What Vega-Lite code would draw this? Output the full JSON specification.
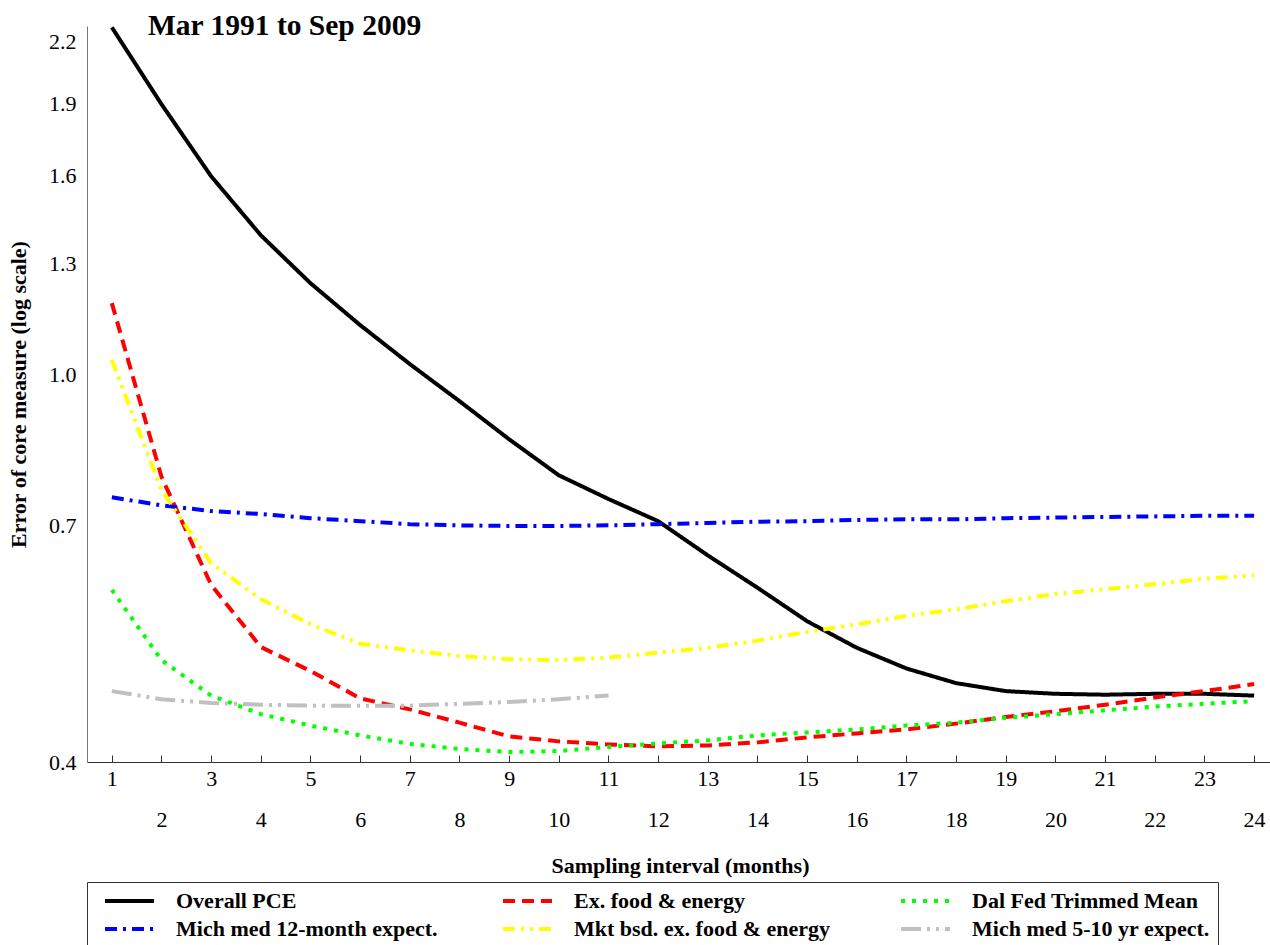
{
  "$schema": "https://vega.github.io/schema/vega-lite/v6.json",
  "width": 1183,
  "height": 736,
  "autosize": {"type": "none"},
  "padding": {"left": 87, "top": 26, "right": 0, "bottom": 183},
  "background": "white",
  "config": {"view": {"stroke": null}, "font": "'Liberation Serif', 'Times New Roman', 'DejaVu Serif', serif"},
  "title": {"text": "Mar 1991 to Sep 2009", "anchor": "start", "frame": "group", "dx": 61, "offset": -38, "baseline": "alphabetic", "font": "'Liberation Serif', 'Times New Roman', 'DejaVu Serif', serif", "fontSize": 29.5, "fontWeight": "bold", "color": "black"},
  "datasets": {
    "d": [
      {"series": "Overall PCE", "months": 1, "error": 2.273}, {"series": "Overall PCE", "months": 2, "error": 1.895}, {"series": "Overall PCE", "months": 3, "error": 1.598}, {"series": "Overall PCE", "months": 4, "error": 1.39}, {"series": "Overall PCE", "months": 5, "error": 1.241}, {"series": "Overall PCE", "months": 6, "error": 1.124}, {"series": "Overall PCE", "months": 7, "error": 1.025}, {"series": "Overall PCE", "months": 8, "error": 0.939}, {"series": "Overall PCE", "months": 9, "error": 0.858}, {"series": "Overall PCE", "months": 10, "error": 0.788}, {"series": "Overall PCE", "months": 11, "error": 0.745}, {"series": "Overall PCE", "months": 12, "error": 0.707}, {"series": "Overall PCE", "months": 13, "error": 0.652}, {"series": "Overall PCE", "months": 14, "error": 0.604}, {"series": "Overall PCE", "months": 15, "error": 0.558}, {"series": "Overall PCE", "months": 16, "error": 0.524}, {"series": "Overall PCE", "months": 17, "error": 0.499}, {"series": "Overall PCE", "months": 18, "error": 0.482}, {"series": "Overall PCE", "months": 19, "error": 0.473}, {"series": "Overall PCE", "months": 20, "error": 0.47}, {"series": "Overall PCE", "months": 21, "error": 0.469}, {"series": "Overall PCE", "months": 22, "error": 0.47}, {"series": "Overall PCE", "months": 23, "error": 0.47}, {"series": "Overall PCE", "months": 24, "error": 0.468},
      {"series": "Ex. food & energy", "months": 1, "error": 1.184}, {"series": "Ex. food & energy", "months": 2, "error": 0.785}, {"series": "Ex. food & energy", "months": 3, "error": 0.608}, {"series": "Ex. food & energy", "months": 4, "error": 0.525}, {"series": "Ex. food & energy", "months": 5, "error": 0.496}, {"series": "Ex. food & energy", "months": 6, "error": 0.465}, {"series": "Ex. food & energy", "months": 7, "error": 0.453}, {"series": "Ex. food & energy", "months": 8, "error": 0.439}, {"series": "Ex. food & energy", "months": 9, "error": 0.425}, {"series": "Ex. food & energy", "months": 10, "error": 0.42}, {"series": "Ex. food & energy", "months": 11, "error": 0.417}, {"series": "Ex. food & energy", "months": 12, "error": 0.415}, {"series": "Ex. food & energy", "months": 13, "error": 0.416}, {"series": "Ex. food & energy", "months": 14, "error": 0.419}, {"series": "Ex. food & energy", "months": 15, "error": 0.424}, {"series": "Ex. food & energy", "months": 16, "error": 0.428}, {"series": "Ex. food & energy", "months": 17, "error": 0.432}, {"series": "Ex. food & energy", "months": 18, "error": 0.438}, {"series": "Ex. food & energy", "months": 19, "error": 0.445}, {"series": "Ex. food & energy", "months": 20, "error": 0.451}, {"series": "Ex. food & energy", "months": 21, "error": 0.458}, {"series": "Ex. food & energy", "months": 22, "error": 0.466}, {"series": "Ex. food & energy", "months": 23, "error": 0.473}, {"series": "Ex. food & energy", "months": 24, "error": 0.481},
      {"series": "Dal Fed Trimmed Mean", "months": 1, "error": 0.601}, {"series": "Dal Fed Trimmed Mean", "months": 2, "error": 0.509}, {"series": "Dal Fed Trimmed Mean", "months": 3, "error": 0.468}, {"series": "Dal Fed Trimmed Mean", "months": 4, "error": 0.448}, {"series": "Dal Fed Trimmed Mean", "months": 5, "error": 0.436}, {"series": "Dal Fed Trimmed Mean", "months": 6, "error": 0.426}, {"series": "Dal Fed Trimmed Mean", "months": 7, "error": 0.4175}, {"series": "Dal Fed Trimmed Mean", "months": 8, "error": 0.4125}, {"series": "Dal Fed Trimmed Mean", "months": 9, "error": 0.4095}, {"series": "Dal Fed Trimmed Mean", "months": 10, "error": 0.4105}, {"series": "Dal Fed Trimmed Mean", "months": 11, "error": 0.4145}, {"series": "Dal Fed Trimmed Mean", "months": 12, "error": 0.418}, {"series": "Dal Fed Trimmed Mean", "months": 13, "error": 0.421}, {"series": "Dal Fed Trimmed Mean", "months": 14, "error": 0.426}, {"series": "Dal Fed Trimmed Mean", "months": 15, "error": 0.429}, {"series": "Dal Fed Trimmed Mean", "months": 16, "error": 0.432}, {"series": "Dal Fed Trimmed Mean", "months": 17, "error": 0.436}, {"series": "Dal Fed Trimmed Mean", "months": 18, "error": 0.439}, {"series": "Dal Fed Trimmed Mean", "months": 19, "error": 0.444}, {"series": "Dal Fed Trimmed Mean", "months": 20, "error": 0.448}, {"series": "Dal Fed Trimmed Mean", "months": 21, "error": 0.452}, {"series": "Dal Fed Trimmed Mean", "months": 22, "error": 0.456}, {"series": "Dal Fed Trimmed Mean", "months": 23, "error": 0.459}, {"series": "Dal Fed Trimmed Mean", "months": 24, "error": 0.462},
      {"series": "Mich med 12-month expect.", "months": 1, "error": 0.748}, {"series": "Mich med 12-month expect.", "months": 2, "error": 0.734}, {"series": "Mich med 12-month expect.", "months": 3, "error": 0.724}, {"series": "Mich med 12-month expect.", "months": 4, "error": 0.719}, {"series": "Mich med 12-month expect.", "months": 5, "error": 0.712}, {"series": "Mich med 12-month expect.", "months": 6, "error": 0.707}, {"series": "Mich med 12-month expect.", "months": 7, "error": 0.702}, {"series": "Mich med 12-month expect.", "months": 8, "error": 0.7}, {"series": "Mich med 12-month expect.", "months": 9, "error": 0.699}, {"series": "Mich med 12-month expect.", "months": 10, "error": 0.699}, {"series": "Mich med 12-month expect.", "months": 11, "error": 0.7}, {"series": "Mich med 12-month expect.", "months": 12, "error": 0.702}, {"series": "Mich med 12-month expect.", "months": 13, "error": 0.704}, {"series": "Mich med 12-month expect.", "months": 14, "error": 0.706}, {"series": "Mich med 12-month expect.", "months": 15, "error": 0.707}, {"series": "Mich med 12-month expect.", "months": 16, "error": 0.709}, {"series": "Mich med 12-month expect.", "months": 17, "error": 0.71}, {"series": "Mich med 12-month expect.", "months": 18, "error": 0.71}, {"series": "Mich med 12-month expect.", "months": 19, "error": 0.712}, {"series": "Mich med 12-month expect.", "months": 20, "error": 0.713}, {"series": "Mich med 12-month expect.", "months": 21, "error": 0.714}, {"series": "Mich med 12-month expect.", "months": 22, "error": 0.715}, {"series": "Mich med 12-month expect.", "months": 23, "error": 0.716}, {"series": "Mich med 12-month expect.", "months": 24, "error": 0.716},
      {"series": "Mkt bsd. ex. food & energy", "months": 1, "error": 1.035}, {"series": "Mkt bsd. ex. food & energy", "months": 2, "error": 0.761}, {"series": "Mkt bsd. ex. food & energy", "months": 3, "error": 0.64}, {"series": "Mkt bsd. ex. food & energy", "months": 4, "error": 0.588}, {"series": "Mkt bsd. ex. food & energy", "months": 5, "error": 0.554}, {"series": "Mkt bsd. ex. food & energy", "months": 6, "error": 0.529}, {"series": "Mkt bsd. ex. food & energy", "months": 7, "error": 0.521}, {"series": "Mkt bsd. ex. food & energy", "months": 8, "error": 0.514}, {"series": "Mkt bsd. ex. food & energy", "months": 9, "error": 0.51}, {"series": "Mkt bsd. ex. food & energy", "months": 10, "error": 0.509}, {"series": "Mkt bsd. ex. food & energy", "months": 11, "error": 0.512}, {"series": "Mkt bsd. ex. food & energy", "months": 12, "error": 0.518}, {"series": "Mkt bsd. ex. food & energy", "months": 13, "error": 0.524}, {"series": "Mkt bsd. ex. food & energy", "months": 14, "error": 0.533}, {"series": "Mkt bsd. ex. food & energy", "months": 15, "error": 0.544}, {"series": "Mkt bsd. ex. food & energy", "months": 16, "error": 0.554}, {"series": "Mkt bsd. ex. food & energy", "months": 17, "error": 0.565}, {"series": "Mkt bsd. ex. food & energy", "months": 18, "error": 0.574}, {"series": "Mkt bsd. ex. food & energy", "months": 19, "error": 0.585}, {"series": "Mkt bsd. ex. food & energy", "months": 20, "error": 0.595}, {"series": "Mkt bsd. ex. food & energy", "months": 21, "error": 0.602}, {"series": "Mkt bsd. ex. food & energy", "months": 22, "error": 0.609}, {"series": "Mkt bsd. ex. food & energy", "months": 23, "error": 0.617}, {"series": "Mkt bsd. ex. food & energy", "months": 24, "error": 0.622},
      {"series": "Mich med 5-10 yr expect.", "months": 1, "error": 0.473}, {"series": "Mich med 5-10 yr expect.", "months": 2, "error": 0.464}, {"series": "Mich med 5-10 yr expect.", "months": 3, "error": 0.46}, {"series": "Mich med 5-10 yr expect.", "months": 4, "error": 0.458}, {"series": "Mich med 5-10 yr expect.", "months": 5, "error": 0.457}, {"series": "Mich med 5-10 yr expect.", "months": 6, "error": 0.457}, {"series": "Mich med 5-10 yr expect.", "months": 7, "error": 0.457}, {"series": "Mich med 5-10 yr expect.", "months": 8, "error": 0.459}, {"series": "Mich med 5-10 yr expect.", "months": 9, "error": 0.461}, {"series": "Mich med 5-10 yr expect.", "months": 10, "error": 0.464}, {"series": "Mich med 5-10 yr expect.", "months": 11, "error": 0.468}
    ]
  },
  "data": {"name": "d"},
  "mark": {"type": "line", "strokeWidth": 4, "strokeCap": "butt", "clip": true},
  "encoding": {
    "x": {
      "field": "months", "type": "quantitative",
      "scale": {"domain": [0.5, 24.32], "nice": false, "zero": false},
      "axis": {
        "values": [1,2,3,4,5,6,7,8,9,10,11,12,13,14,15,16,17,18,19,20,21,22,23,24],
        "format": "d", "grid": false, "tickSize": -7, "tickColor": "#333333", "tickWidth": 1,
        "domainColor": "#333333", "domainWidth": 1,
        "labelFont": "'Liberation Serif', 'Times New Roman', 'DejaVu Serif', serif", "labelFontSize": 22, "labelColor": "black",
        "labelPadding": {"condition": {"test": "datum.value % 2 === 0", "value": 54}, "value": 13},
        "labelFlush": false, "labelOverlap": false,
        "title": "Sampling interval (months)", "titleFont": "'Liberation Serif', 'Times New Roman', 'DejaVu Serif', serif", "titleFontSize": 22, "titleFontWeight": "bold", "titleColor": "black",
        "titleBaseline": "alphabetic", "titleY": 110, "titleX": 593
      }
    },
    "y": {
      "field": "error", "type": "quantitative",
      "scale": {"type": "log", "domain": [0.4, 2.28], "nice": false},
      "axis": {
        "values": [0.4, 0.7, 1.0, 1.3, 1.6, 1.9, 2.2],
        "format": ".1f", "ticks": false, "grid": false,
        "domainColor": "#777777", "domainWidth": 1,
        "labelFont": "'Liberation Serif', 'Times New Roman', 'DejaVu Serif', serif", "labelFontSize": 22, "labelColor": "black", "labelPadding": 11,
        "labelFlush": false, "labelOverlap": false,
        "title": "Error of core measure (log scale)", "titleFont": "'Liberation Serif', 'Times New Roman', 'DejaVu Serif', serif", "titleFontSize": 22, "titleFontWeight": "bold", "titleColor": "black",
        "titleAngle": -90, "titleBaseline": "alphabetic", "titleAlign": "center", "titleX": -62, "titleY": 368
      }
    },
    "color": {
      "field": "series", "type": "nominal",
      "scale": {"domain": ["Overall PCE", "Ex. food & energy", "Dal Fed Trimmed Mean", "Mich med 12-month expect.", "Mkt bsd. ex. food & energy", "Mich med 5-10 yr expect."], "range": ["#000000", "#ff0000", "#00ff00", "#0000ff", "#ffff00", "#c0c0c0"]},
      "legend": {"orient": "none", "legendX": 0, "legendY": 856, "direction": "horizontal", "columns": 3, "title": null, "padding": 8, "strokeColor": "#333333", "symbolType": "stroke", "symbolSize": 2401, "symbolStrokeWidth": 4, "symbolOffset": 8, "clipHeight": 22, "rowPadding": 6, "columnPadding": 55, "gridAlign": "all", "labelFont": "'Liberation Serif', 'Times New Roman', 'DejaVu Serif', serif", "labelFontSize": 22, "labelFontWeight": "bold", "labelColor": "black", "labelLimit": 500, "labelOffset": 20}
    },
    "strokeDash": {
      "field": "series", "type": "nominal",
      "scale": {"domain": ["Overall PCE", "Ex. food & energy", "Dal Fed Trimmed Mean", "Mich med 12-month expect.", "Mkt bsd. ex. food & energy", "Mich med 5-10 yr expect."], "range": [[1, 0], [12, 7], [4, 7], [12, 6, 3, 6], [12, 6, 3, 6, 3, 6], [20, 6, 3, 6, 3, 6]]},
      "legend": {"orient": "none", "legendX": 0, "legendY": 856, "direction": "horizontal", "columns": 3, "title": null, "padding": 8, "strokeColor": "#333333", "symbolType": "stroke", "symbolSize": 2401, "symbolStrokeWidth": 4, "symbolOffset": 8, "clipHeight": 22, "rowPadding": 6, "columnPadding": 55, "gridAlign": "all", "labelFont": "'Liberation Serif', 'Times New Roman', 'DejaVu Serif', serif", "labelFontSize": 22, "labelFontWeight": "bold", "labelColor": "black", "labelLimit": 500, "labelOffset": 20}
    }
  }
}
